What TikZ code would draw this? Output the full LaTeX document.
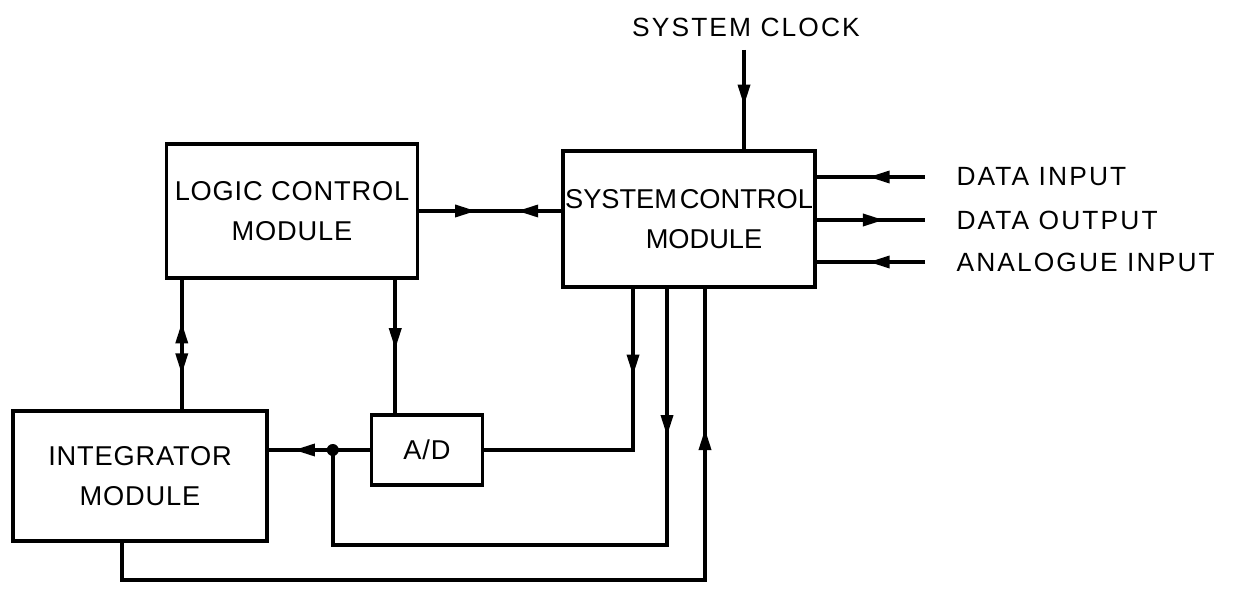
\documentclass[tikz,border=0pt]{standalone}
\usepackage{fontspec}
\setmainfont{Liberation Sans}
\newfontfamily\signalfont[LetterSpace=8]{Liberation Sans}
\newfontfamily\modulefont[LetterSpace=3]{Liberation Sans}
\usetikzlibrary{arrows.meta, positioning, calc, decorations.markings}

\begin{document}
\begin{tikzpicture}[
    x=0.02cm, y=-0.02cm,
    line width=2pt,
    module/.style={rectangle, draw, line width=2pt, inner sep=1pt, align=center, font=\modulefont\fontsize{15.5}{23}\selectfont},
    signal/.style={font=\signalfont\fontsize{15}{18}\selectfont},
    tip/.style={postaction={decorate, decoration={markings, mark=at position #1 with {\arrow{Triangle[length=4.2mm,width=2.4mm]}}}}},
    backtip/.style={postaction={decorate, decoration={markings, mark=at position #1 with {\arrowreversed{Triangle[length=4.2mm,width=2.4mm]}}}}}
]
\useasboundingbox (0,0) rectangle (1236,590);

% Modules
\node[module, minimum width=5.02cm, minimum height=2.68cm] (logic) at (292,211) {LOGIC CONTROL\\MODULE};
\node[module, font=\rmfamily\fontsize{15.5}{23}\selectfont, minimum width=5.04cm, minimum height=2.72cm] (sys) at (689,219) {SYSTEM\hspace{0.1em}CONTROL\\\hspace*{0.6cm}MODULE};
\node[module, minimum width=5.08cm, minimum height=2.6cm] (integ) at (140,476) {INTEGRATOR\\MODULE};
\node[module, minimum width=2.22cm, minimum height=1.4cm] (adc) at (427,450) {A/D};

% Signal labels
\node[signal] (clock) at (746,27) {SYSTEM CLOCK};
\node[signal, anchor=west] (din) at (949,177) {DATA INPUT};
\node[signal, anchor=west] (dout) at (949,220) {DATA OUTPUT};
\node[signal, anchor=west] (ain) at (949,262) {ANALOGUE INPUT};

% Clock
\coordinate (clk) at (744,50);
\draw[tip=0.56] (clk) -- (clk |- sys.north);

% Logic <-> system
\draw[tip=0.40, backtip=0.69] (logic.east) -- (logic.east -| sys.west);

% External data
\draw[tip=0.52] ([xshift=-0.48cm]din.west) -- (din.west -| sys.east);
\draw[tip=0.62] (dout.west -| sys.east) -- ([xshift=-0.48cm]dout.west);
\draw[tip=0.52] ([xshift=-0.48cm]ain.west) -- (ain.west -| sys.east);

% Logic <-> integrator, logic -> A/D
\draw[backtip=0.33, tip=0.73] ([xshift=0.34cm]logic.south west) -- ([xshift=0.34cm]logic.south west |- integ.north);
\draw[tip=0.52] ([xshift=-0.48cm]logic.south east) -- ([xshift=-0.48cm]logic.south east |- adc.north);

% A/D -> integrator
\coordinate[left=0.74cm of adc.west] (jn);
\draw[tip=0.75] (adc.west) -- (adc.west -| integ.east);
\fill (jn) circle (0.12cm);

% System control outputs
\draw[tip=0.28] ([xshift=-1.12cm]sys.south) |- (adc.east);
\draw[tip=0.215] ([xshift=-0.44cm]sys.south) -- ++(0,256) -| (jn);
\draw[tip=0.846] ([xshift=-0.36cm]integ.south) -- ++(0,37) -| ([xshift=0.32cm]sys.south);

\end{tikzpicture}
\end{document}
